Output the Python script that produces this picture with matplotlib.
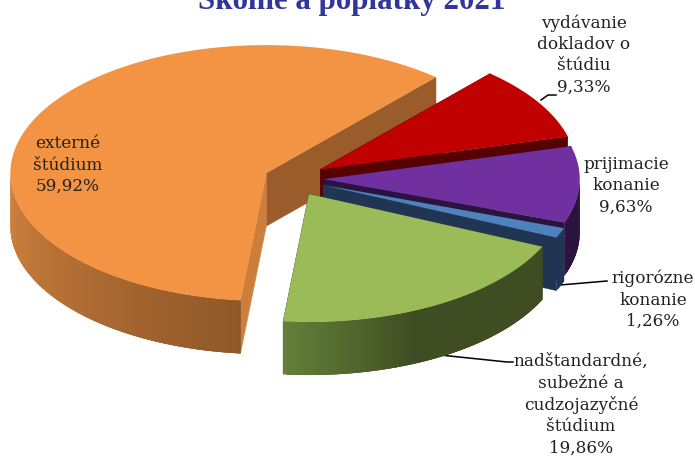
import numpy as np
import matplotlib
matplotlib.use("Agg")
import matplotlib.pyplot as plt
from matplotlib.collections import PolyCollection
from matplotlib.colors import to_rgb

title = "Školné a poplatky 2021"
names = ["externé\nštúdium", "nadštandardné,\nsubežné a\ncudzojazyčné\nštúdium",
         "rigorózne\nkonanie", "prijimacie\nkonanie", "vydávanie\ndokladov o\nštúdiu"]
values = [59.92, 19.86, 1.26, 9.63, 9.33]

top_colors = ["#F39445", "#9BBB59", "#4F81BD", "#7030A0", "#C00000"]
cut_colors = [("#9A5C2B", "#CC7E3A"), ("#3F4D22", "#3F4D22"), ("#1F3552", "#1F3552"),
              ("#2B1340", "#2B1340"), ("#560000", "#560000")]
wall_stops = [("#D2833E", "#8F5829", 1.0), ("#64803A", "#3F4D22", 0.42), ("#1F3552", "#1F3552", 1.0),
              ("#2B1340", "#2B1340", 1.0), ("#560000", "#560000", 1.0)]
explode = [0.105, 0.14, 0.135, 0.128, 0.135]
label_xy = [(68, 165), (581, 405), (653, 300), (626, 186), (584, 55)]
start_angle = 48.5
CX, CY, RX, RY, DEPTH = 291.0, 178.5, 256.0, 128.0, 53.0

fig = plt.figure(figsize=(6.95, 4.62), dpi=100)
ax = fig.add_axes([0, 0, 1, 1])
ax.set_xlim(0, 695)
ax.set_ylim(462, 0)
ax.axis("off")

def lerp(a, b, t):
    a, b = np.array(to_rgb(a)), np.array(to_rgb(b))
    return tuple(a + (b - a) * t)

fracs = np.array(values) / sum(values) * 360
starts = start_angle + np.concatenate([[0], np.cumsum(fracs)[:-1]])

def slice_geom(i):
    a0 = starts[i]
    a1 = a0 + fracs[i]
    mid = np.radians((a0 + a1) / 2)
    ox = CX + explode[i] * RX * np.cos(mid)
    oy = CY - explode[i] * RY * np.sin(mid)
    return ox, oy, a0, a1

def point(ox, oy, deg):
    r = np.radians(deg)
    return ox + RX * np.cos(r), oy - RY * np.sin(r)

def draw_slice(i, z):
    ox, oy, a0, a1 = slice_geom(i)
    p0 = point(ox, oy, a0)
    p1 = point(ox, oy, a1)
    for p, col in ((p0, cut_colors[i][0]), (p1, cut_colors[i][1])):
        ax.fill([ox, p[0], p[0], ox], [oy, p[1], p[1] + DEPTH, oy + DEPTH],
                color=col, lw=0.3, zorder=z)
    angs = np.linspace(a0, a1, int((a1 - a0) * 2) + 2)
    vis = [k for k in range(len(angs) - 1) if 180 < ((angs[k] + angs[k + 1]) / 2) % 360 < 360]
    c0, c1, span = wall_stops[i]
    polys, cols = [], []
    n_vis = max(1, len(vis) - 1)
    for n, k in enumerate(vis):
        # each strip overlaps the next so that no seam shows
        stop = angs[min(k + 3, vis[-1] + 1)]
        sub = np.linspace(angs[k], stop, 5)
        xy = [point(ox, oy, s) for s in sub]
        polys.append(xy + [(x, y + DEPTH) for x, y in reversed(xy)])
        cols.append(lerp(c0, c1, min(1, n / n_vis / span)))
    if polys:
        ax.add_collection(PolyCollection(polys, facecolors=cols, edgecolors="none", zorder=z + 0.1))
    t = np.radians(np.linspace(a0, a1, 200))
    ax.fill(np.r_[ox, ox + RX * np.cos(t)], np.r_[oy, oy - RY * np.sin(t)],
            color=top_colors[i], lw=0, zorder=z + 0.2)

for order, i in enumerate([0, 4, 3, 2, 1]):
    draw_slice(i, order + 1)

for name, v, (x, y) in zip(names, values, label_xy):
    txt = name + "\n" + f"{v:.2f}".replace(".", ",") + "%"
    ax.text(x, y, txt, ha="center", va="center", fontsize=12.2, family="DejaVu Serif",
            color="#222222", linespacing=1.33, zorder=20)

ax.plot([541, 548, 556], [100, 95, 95], color="k", lw=1.1, zorder=10)
ax.plot([560, 607], [285, 281], color="k", lw=1.1, zorder=0.5)
ax.plot([440, 507, 513], [355, 362, 362], color="k", lw=1.1, zorder=0.5)

ax.text(352, 9.5, title, ha="center", va="baseline", fontsize=22.3, family="Liberation Serif",
        weight="bold", color="#30369A", zorder=20)

fig.savefig("out.png", dpi=100)
